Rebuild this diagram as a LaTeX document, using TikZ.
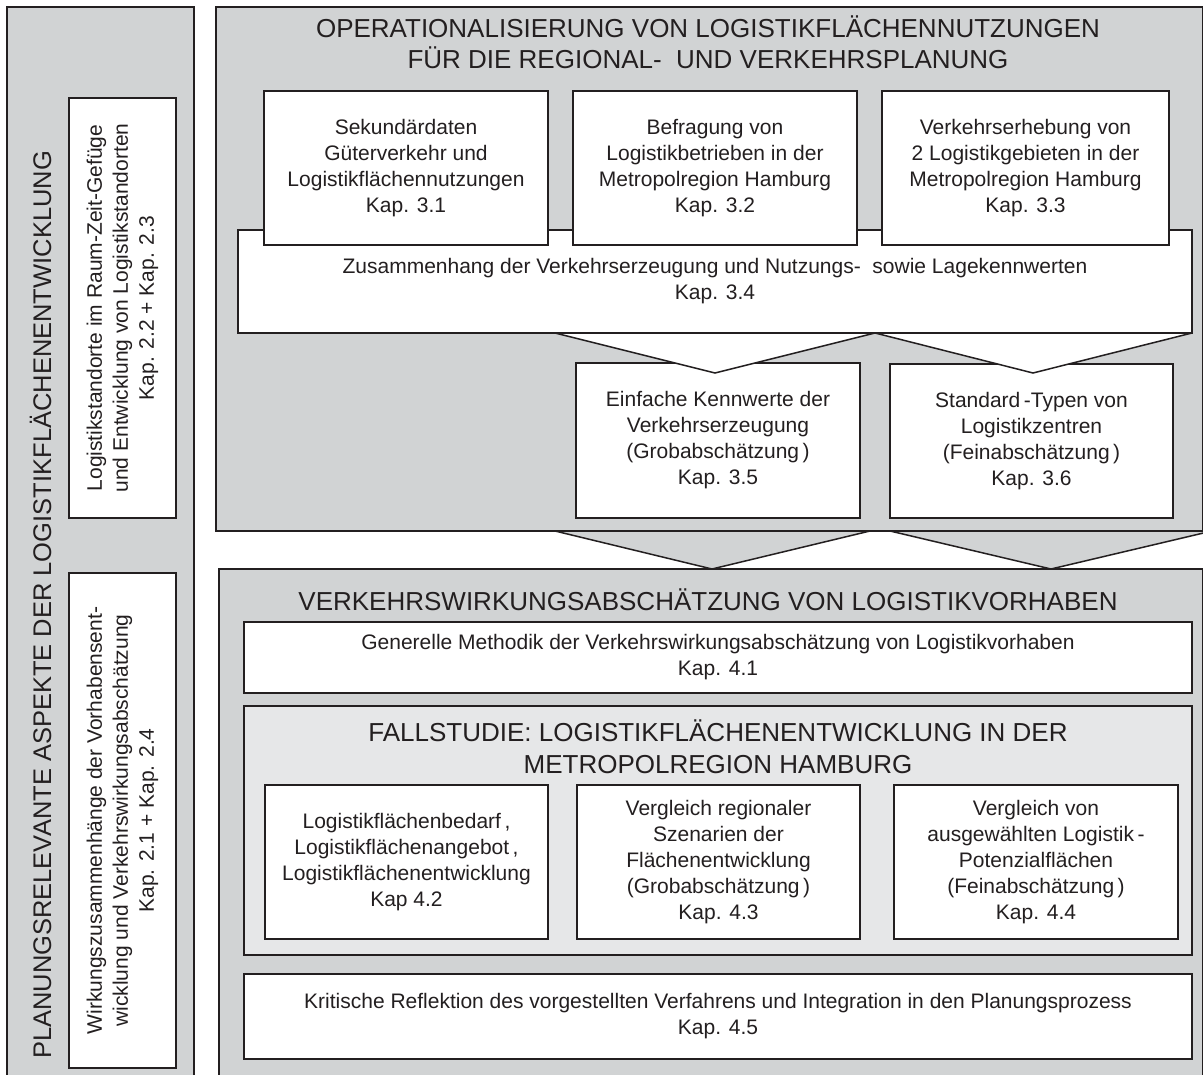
\documentclass[tikz,border=0pt]{standalone}
\usepackage{fontspec}
\setmainfont{Liberation Sans}
\definecolor{ink}{HTML}{231F20}
\definecolor{panelgray}{HTML}{D1D3D4}
\definecolor{innergray}{HTML}{E6E7E8}
\begin{document}
\begin{tikzpicture}[x=1pt,y=-1pt,
  pane/.style={draw=ink, fill=panelgray, line width=1.6pt, inner sep=0pt},
  subpane/.style={draw=ink, fill=innergray, line width=1.6pt, inner sep=0pt},
  card/.style={draw=ink, fill=white, line width=1.5pt, align=center, inner sep=0pt,
    text=ink, font=\fontsize{21}{26}\selectfont},
  head/.style={align=center, text=ink, inner sep=0pt, font=\fontsize{26}{31.5}\selectfont},
  chev/.style={draw=ink, line width=1.5pt, line join=miter},
]
\useasboundingbox (0,0) rectangle (1203,1075);
\clip (0,0) rectangle (1203,1075);

% ---------- left column ----------
\node[pane, minimum width=187, minimum height=1100] (leftpane) at (100.5,557) {};
\node[head, font=\fontsize{25.5}{30}\selectfont, rotate=90, anchor=base] (lefttitle) at (51,605)
  {PLANUNGSRELEVANTE ASPEKTE DER LOGISTIKFLÄCHENENTWICKLUNG};
\node[card, rotate=90, minimum width=420, minimum height=107] (raum) at (122.5,308)
  {Logistikstandorte im Raum-Zeit-Gefüge\\und Entwicklung von Logistikstandorten\\Kap. 2.2 + Kap. 2.3};
\node[card, rotate=90, minimum width=495, minimum height=107] (wirk) at (122.5,820.5)
  {Wirkungszusammenhänge der Vorhabensent-\\wicklung und Verkehrswirkungsabschätzung\\Kap. 2.1 + Kap. 2.4};

% ---------- arrows between the two right-hand panels ----------
\coordinate (la1) at (555,531);  \coordinate (lt1) at (712,569);  \coordinate (lb1) at (870,531);
\coordinate (la2) at (890,531);  \coordinate (lt2) at (1051,569); \coordinate (lb2) at (1212,531);
\fill[panelgray] (la1) -- (lt1) -- (lb1) -- cycle;
\fill[panelgray] (la2) -- (lt2) -- (lb2) -- cycle;
\draw[chev] (la1) -- (lt1) -- (lb1);
\draw[chev] (la2) -- (lt2) -- (lb2);

% ---------- upper panel ----------
\node[pane, minimum width=987, minimum height=524] (toppane) at (709.5,269) {};
\node[head] (toptitle) at (708,42.5)
  {OPERATIONALISIERUNG VON LOGISTIKFLÄCHENNUTZUNGEN\\FÜR DIE REGIONAL-\ \ UND VERKEHRSPLANUNG};

\node[card, minimum width=284, minimum height=155] (kenn) at (718,440.5)
  {Einfache Kennwerte der\\Verkehrserzeugung\\(Grobabschätzung\,)\\Kap. 3.5};
\node[card, minimum width=283, minimum height=154] (typen) at (1031.5,441)
  {Standard\,-Typen von\\Logistikzentren\\(Feinabschätzung\,)\\Kap. 3.6};

\coordinate (ua1) at (555,333); \coordinate (ut1) at (715,373);  \coordinate (ub1) at (875,333);
\coordinate (ua2) at (875,333); \coordinate (ut2) at (1033,373); \coordinate (ub2) at (1192,333);
\fill[white] (ua1) -- (ut1) -- (ub1) -- cycle;
\fill[white] (ua2) -- (ut2) -- (ub2) -- cycle;
\draw[chev] (ua1) -- (ut1) -- (ub1);
\draw[chev] (ua2) -- (ut2) -- (ub2);

\node[card, minimum width=954, minimum height=103] (zus) at (715,281.5)
  {Zusammenhang der Verkehrserzeugung und Nutzungs-\ \ sowie Lagekennwerten\\Kap. 3.4};

\node[card, minimum width=284, minimum height=154] (sek) at (406,168)
  {Sekundärdaten\\Güterverkehr und\\Logistikflächennutzungen\\Kap. 3.1};
\node[card, minimum width=284, minimum height=154] (befr) at (715,168)
  {Befragung von\\Logistikbetrieben in der\\Metropolregion Hamburg\\Kap. 3.2};
\node[card, minimum width=287, minimum height=154] (erheb) at (1025.5,168)
  {Verkehrserhebung von\\2 Logistikgebieten in der\\Metropolregion Hamburg\\Kap. 3.3};

% ---------- lower panel ----------
\node[pane, minimum width=984, minimum height=531] (lowpane) at (711,834.5) {};
\node[head] (lowtitle) at (708,599.5)
  {VERKEHRSWIRKUNGSABSCHÄTZUNG VON LOGISTIKVORHABEN};
\node[card, minimum width=948, minimum height=71] (meth) at (718,657.5)
  {Generelle Methodik der Verkehrswirkungsabschätzung von Logistikvorhaben\\Kap. 4.1};

\node[subpane, minimum width=948, minimum height=249] (fall) at (718,830.5) {};
\node[head] (falltitle) at (718,746.5)
  {FALLSTUDIE: LOGISTIKFLÄCHENENTWICKLUNG IN DER\\METROPOLREGION HAMBURG};
\node[card, minimum width=283, minimum height=154] (bedarf) at (406.5,862)
  {Logistikflächenbedarf\,,\\Logistikflächenangebot\,,\\Logistikflächenentwicklung\\Kap 4.2};
\node[card, minimum width=283, minimum height=154] (szen) at (718.5,862)
  {Vergleich regionaler\\Szenarien der\\Flächenentwicklung\\(Grobabschätzung\,)\\Kap. 4.3};
\node[card, minimum width=284, minimum height=154] (poten) at (1036,862)
  {Vergleich von\\ausgewählten Logistik\,-\\Potenzialflächen\\(Feinabschätzung\,)\\Kap. 4.4};

\node[card, minimum width=948, minimum height=85] (krit) at (718,1016.5)
  {Kritische Reflektion des vorgestellten Verfahrens und Integration in den Planungsprozess\\Kap. 4.5};
\end{tikzpicture}
\end{document}
